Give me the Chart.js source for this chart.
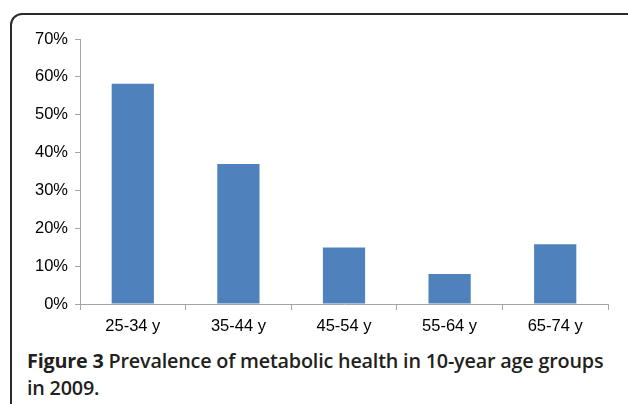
<!DOCTYPE html>
<html>
<head>
<meta charset="utf-8">
<script src="https://cdn.jsdelivr.net/npm/chart.js@4"></script>
<style>
  html, body { margin: 0; padding: 0; background: #fff; }
  body { width: 628px; height: 404px; position: relative; overflow: hidden; }
  .frame {
    position: absolute; left: 10px; top: 13px; width: 640px; height: 420px;
    border: 2px solid #2a2a2a; border-radius: 12px; box-sizing: border-box;
  }
  .chart-box { position: absolute; left: 0; top: 0; width: 628px; height: 340px; }
  .caption {
    position: absolute; left: 27px; top: 347px; width: 590px;
    font-family: "Open Sans", sans-serif; font-size: 19.8px; font-weight: 600;
    line-height: 27px; color: #231f20; letter-spacing: -0.2px;
  }
  .caption b { font-weight: 700; }
</style>
</head>
<body>
<div class="frame"></div>
<div class="chart-box"><canvas id="chart"></canvas></div>
<div class="caption"><b>Figure 3</b> Prevalence of metabolic health in 10-year age groups in 2009.</div>
<script>
const AXIS_COLOR = "#a6a6a6";
const BAR_COLOR = "#4f81bd";

const ageGroups = ["25-34 y", "35-44 y", "45-54 y", "55-64 y", "65-74 y"];
const prevalence = [58.2, 37.0, 14.9, 7.9, 15.8];
const yTicks = [0, 10, 20, 30, 40, 50, 60, 70];

new Chart(document.getElementById("chart"), {
  type: "bar",
  data: {
    labels: ageGroups,
    datasets: [
      {
        data: prevalence,
        backgroundColor: BAR_COLOR,
        categoryPercentage: 1,
        barPercentage: 0.4,
      },
    ],
  },
  options: {
    responsive: true,
    maintainAspectRatio: false,
    animation: false,
    layout: { padding: { left: 0, right: 20, top: 39, bottom: 0 } },
    plugins: { legend: { display: false }, tooltip: { enabled: false } },
    scales: {
      x: {
        afterFit: (scale) => { scale.height = 36; },
        grid: {
          drawOnChartArea: false,
          drawTicks: true,
          tickLength: 6,
          color: AXIS_COLOR,
        },
        border: { display: true, color: AXIS_COLOR, width: 1 },
        ticks: {
          color: "#000",
          padding: 7,
          font: { family: "'Liberation Sans', Arial, sans-serif", size: 16.5 },
        },
      },
      y: {
        min: 0,
        max: 70,
        afterFit: (scale) => { scale.width = 80; },
        afterBuildTicks: (scale) => {
          scale.ticks = yTicks.map((v) => ({ value: v }));
        },
        grid: {
          drawOnChartArea: false,
          drawTicks: true,
          tickLength: 5,
          color: AXIS_COLOR,
        },
        border: { display: true, color: AXIS_COLOR, width: 1 },
        ticks: {
          color: "#000",
          padding: 7,
          callback: (v) => v + "%",
          font: { family: "'Liberation Sans', Arial, sans-serif", size: 16.5 },
        },
      },
    },
  },
});
</script>
</body>
</html>
